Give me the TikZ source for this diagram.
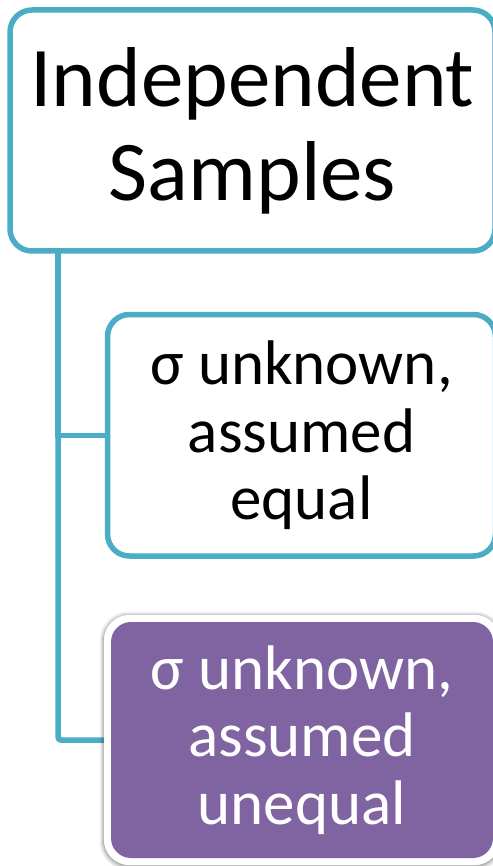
\documentclass[tikz,border=0pt]{standalone}
\usepackage{fontspec}
\setmainfont{Carlito}
\usetikzlibrary{backgrounds}
\definecolor{accblue}{HTML}{4BACC6}
\definecolor{accpurple}{HTML}{8064A2}
\begin{document}
\begin{tikzpicture}[x=1pt,y=-1pt,
  box/.style={draw=accblue, line width=5.5pt, rounded corners=22pt, fill=white, inner sep=0pt, align=center, text=black},
  pbox/.style={fill=accpurple, rounded corners=20pt, inner sep=0pt, align=center, text=white},
  link/.style={draw=accblue, line width=5.5pt},
  bigtext/.style={font=\fontsize{85}{94}\selectfont},
  midtext/.style={font=\fontsize{63}{67.5}\selectfont}]
\useasboundingbox (0,0) rectangle (492,866);
\node[box, bigtext, minimum width=485pt, minimum height=241pt] (top) at (252.5,130.5) {Independent\\Samples};
\node[box, midtext, minimum width=388pt, minimum height=241.5pt] (eq) at (301.5,435.25) {σ unknown,\\assumed\\equal};
\node[pbox, midtext, minimum width=382pt, minimum height=236pt] (uneq) at (302,740) {σ unknown,\\assumed\\unequal};
\coordinate (trunk) at (58,251);
\begin{scope}[on background layer]
  \draw[link] (trunk) |- (eq.west);
  \draw[link, rounded corners=3pt] (trunk) |- (uneq.west);
  \foreach \e/\o in {11/0.05,10/0.07,9/0.09,8/0.12}{
    \fill[black, opacity=\o, rounded corners=28pt] ([shift={(-\e,-\e+1)}]uneq.north west) rectangle ([shift={(\e,\e+1)}]uneq.south east);
  }
  \fill[white, rounded corners=26pt] ([shift={(-7,-7)}]uneq.north west) rectangle ([shift={(7,7)}]uneq.south east);
\end{scope}
\end{tikzpicture}
\end{document}
